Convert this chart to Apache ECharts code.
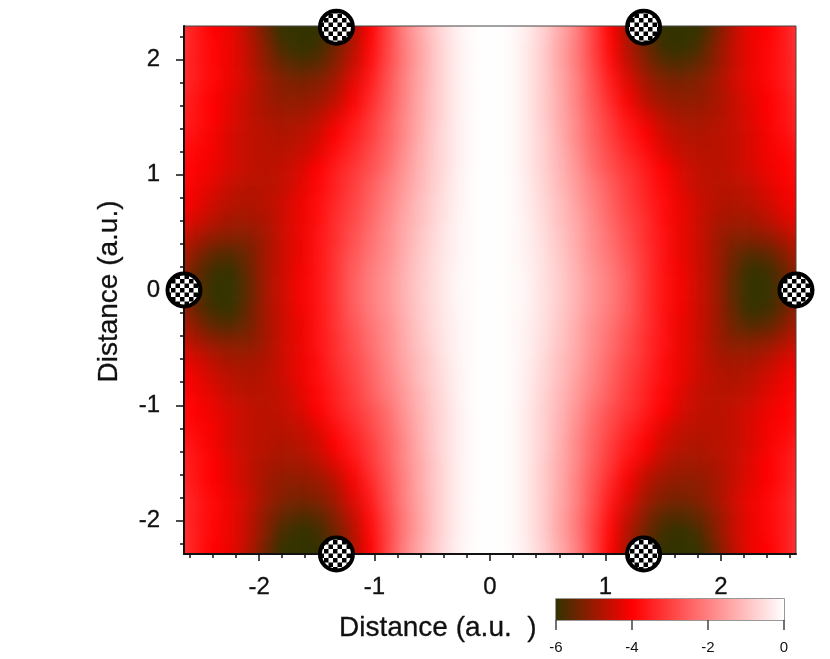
<!DOCTYPE html>
<html>
<head>
<meta charset="utf-8">
<script src="https://cdn.jsdelivr.net/npm/echarts@6/dist/echarts.min.js"></script>
<style>
html, body { margin: 0; padding: 0; background: #fff; }
#plot-clip { position: absolute; left: 184px; top: 26px; width: 612px; height: 528px; overflow: hidden; }
/* blur smooths the coarse cells into a continuous field, extra cells lie outside the clip */
#heat { position: absolute; left: -31.5px; top: -39px; width: 675px; height: 606px; filter: blur(7px); }
#chart { position: absolute; left: 0; top: 0; width: 830px; height: 659px; }
</style>
</head>
<body>
<div id="plot-clip"><div id="heat"></div></div>
<div id="chart"></div>
<script>
const heatX = [-2.85,-2.7,-2.55,-2.4,-2.25,-2.1,-1.95,-1.8,-1.65,-1.5,-1.35,-1.2,-1.05,-.9,-.75,-.6,-.45,-.3,-.15,0,.15,.3,.45,.6,.75,.9,1.05,1.2,1.35,1.5,1.65,1.8,1.95,2.1,2.25,2.4,2.55,2.7,2.85];
const heatY = [2.55,2.4,2.25,2.1,1.95,1.8,1.65,1.5,1.35,1.2,1.05,.9,.75,.6,.45,.3,.15,0,-.15,-.3,-.45,-.6,-.75,-.9,-1.05,-1.2,-1.35,-1.5,-1.65,-1.8,-1.95,-2.1,-2.25,-2.4,-2.55];
// potential values, one row per heatY entry
const heatValues = [
[-2.7,-3.1,-3.6,-4,-4.2,-4.7,-5.4,-6,-6,-6,-5.7,-4.9,-4,-3,-2,-1.3,-.7,-.25,-.05,0,-.05,-.25,-.7,-1.3,-2,-3,-4,-4.9,-5.7,-6,-6,-6,-5.4,-4.7,-4.2,-4,-3.6,-3.1,-2.7],
[-2.7,-3.1,-3.6,-4,-4.2,-4.7,-5.4,-6,-6,-6,-5.7,-4.9,-4,-3,-2,-1.3,-.7,-.25,-.05,0,-.05,-.25,-.7,-1.3,-2,-3,-4,-4.9,-5.7,-6,-6,-6,-5.4,-4.7,-4.2,-4,-3.6,-3.1,-2.7],
[-2.7,-3.1,-3.6,-4,-4.2,-4.7,-5.4,-6,-6,-6,-5.7,-4.9,-4,-3,-2,-1.3,-.7,-.25,-.05,0,-.05,-.25,-.7,-1.3,-2,-3,-4,-4.9,-5.7,-6,-6,-6,-5.4,-4.7,-4.2,-4,-3.6,-3.1,-2.7],
[-2.7,-3.1,-3.6,-3.9,-4.2,-4.6,-5.2,-5.8,-6,-5.9,-5.4,-4.8,-3.9,-3,-2.1,-1.4,-.75,-.3,-.05,0,-.05,-.3,-.75,-1.4,-2.1,-3,-3.9,-4.8,-5.4,-5.9,-6,-5.8,-5.2,-4.6,-4.2,-3.9,-3.6,-3.1,-2.7],
[-2.8,-3.2,-3.6,-3.9,-4.2,-4.6,-5.1,-5.5,-5.7,-5.6,-5.2,-4.6,-3.8,-2.9,-2.1,-1.4,-.75,-.3,-.05,0,-.05,-.3,-.75,-1.4,-2.1,-2.9,-3.8,-4.6,-5.2,-5.6,-5.7,-5.5,-5.1,-4.6,-4.2,-3.9,-3.6,-3.2,-2.8],
[-2.9,-3.2,-3.6,-3.9,-4.2,-4.5,-4.9,-5.2,-5.3,-5.2,-4.9,-4.3,-3.6,-2.8,-2,-1.35,-.75,-.3,-.05,0,-.05,-.3,-.75,-1.35,-2,-2.8,-3.6,-4.3,-4.9,-5.2,-5.3,-5.2,-4.9,-4.5,-4.2,-3.9,-3.6,-3.2,-2.9],
[-3,-3.3,-3.7,-4,-4.3,-4.6,-4.9,-5.1,-5.1,-5,-4.7,-4.1,-3.4,-2.7,-2,-1.3,-.75,-.3,-.05,0,-.05,-.3,-.75,-1.3,-2,-2.7,-3.4,-4.1,-4.7,-5,-5.1,-5.1,-4.9,-4.6,-4.3,-4,-3.7,-3.3,-3],
[-3.1,-3.4,-3.7,-4,-4.3,-4.6,-4.8,-4.9,-4.9,-4.7,-4.3,-3.8,-3.2,-2.6,-1.9,-1.3,-.75,-.3,-.05,0,-.05,-.3,-.75,-1.3,-1.9,-2.6,-3.2,-3.8,-4.3,-4.7,-4.9,-4.9,-4.8,-4.6,-4.3,-4,-3.7,-3.4,-3.1],
[-3.3,-3.5,-3.8,-4.1,-4.4,-4.6,-4.7,-4.8,-4.7,-4.5,-4,-3.6,-3.1,-2.5,-1.9,-1.25,-.7,-.3,-.05,0,-.05,-.3,-.7,-1.25,-1.9,-2.5,-3.1,-3.6,-4,-4.5,-4.7,-4.8,-4.7,-4.6,-4.4,-4.1,-3.8,-3.5,-3.3],
[-3.5,-3.7,-3.9,-4.1,-4.4,-4.6,-4.7,-4.7,-4.6,-4.3,-3.8,-3.4,-2.9,-2.4,-1.8,-1.2,-.7,-.3,-.05,0,-.05,-.3,-.7,-1.2,-1.8,-2.4,-2.9,-3.4,-3.8,-4.3,-4.6,-4.7,-4.7,-4.6,-4.4,-4.1,-3.9,-3.7,-3.5],
[-3.6,-3.8,-4,-4.2,-4.4,-4.6,-4.7,-4.6,-4.4,-4,-3.6,-3.2,-2.8,-2.3,-1.7,-1.15,-.7,-.3,-.05,0,-.05,-.3,-.7,-1.15,-1.7,-2.3,-2.8,-3.2,-3.6,-4,-4.4,-4.6,-4.7,-4.6,-4.4,-4.2,-4,-3.8,-3.6],
[-3.8,-3.9,-4.1,-4.3,-4.6,-4.7,-4.7,-4.6,-4.3,-3.9,-3.5,-3.1,-2.6,-2.1,-1.6,-1.1,-.65,-.25,-.05,0,-.05,-.25,-.65,-1.1,-1.6,-2.1,-2.6,-3.1,-3.5,-3.9,-4.3,-4.6,-4.7,-4.7,-4.6,-4.3,-4.1,-3.9,-3.8],
[-3.9,-4,-4.2,-4.5,-4.7,-4.8,-4.7,-4.5,-4.2,-3.8,-3.4,-3,-2.5,-2,-1.5,-1,-.6,-.25,-.05,0,-.05,-.25,-.6,-1,-1.5,-2,-2.5,-3,-3.4,-3.8,-4.2,-4.5,-4.7,-4.8,-4.7,-4.5,-4.2,-4,-3.9],
[-4.1,-4.2,-4.4,-4.7,-4.9,-4.9,-4.8,-4.5,-4.2,-3.8,-3.3,-2.9,-2.4,-1.9,-1.4,-1,-.55,-.2,-.05,0,-.05,-.2,-.55,-1,-1.4,-1.9,-2.4,-2.9,-3.3,-3.8,-4.2,-4.5,-4.8,-4.9,-4.9,-4.7,-4.4,-4.2,-4.1],
[-4.3,-4.5,-4.8,-5.1,-5.2,-5.2,-4.9,-4.5,-4.2,-3.7,-3.3,-2.8,-2.3,-1.85,-1.35,-.9,-.5,-.2,-.05,0,-.05,-.2,-.5,-.9,-1.35,-1.85,-2.3,-2.8,-3.3,-3.7,-4.2,-4.5,-4.9,-5.2,-5.2,-5.1,-4.8,-4.5,-4.3],
[-4.5,-4.7,-5.2,-5.6,-5.7,-5.4,-4.9,-4.5,-4.2,-3.7,-3.2,-2.7,-2.2,-1.8,-1.3,-.85,-.45,-.2,-.05,0,-.05,-.2,-.45,-.85,-1.3,-1.8,-2.2,-2.7,-3.2,-3.7,-4.2,-4.5,-4.9,-5.4,-5.7,-5.6,-5.2,-4.7,-4.5],
[-4.7,-4.9,-5.5,-5.9,-6,-5.5,-4.9,-4.5,-4.1,-3.7,-3.2,-2.6,-2.1,-1.7,-1.25,-.8,-.45,-.15,-.05,0,-.05,-.15,-.45,-.8,-1.25,-1.7,-2.1,-2.6,-3.2,-3.7,-4.1,-4.5,-4.9,-5.5,-6,-5.9,-5.5,-4.9,-4.7],
[-4.8,-5,-5.6,-6,-6,-5.6,-4.9,-4.5,-4.1,-3.7,-3.2,-2.6,-2.1,-1.7,-1.25,-.8,-.45,-.15,-.05,0,-.05,-.15,-.45,-.8,-1.25,-1.7,-2.1,-2.6,-3.2,-3.7,-4.1,-4.5,-4.9,-5.6,-6,-6,-5.6,-5,-4.8],
[-4.7,-4.9,-5.5,-5.9,-6,-5.5,-4.9,-4.5,-4.1,-3.7,-3.2,-2.6,-2.1,-1.7,-1.25,-.8,-.45,-.15,-.05,0,-.05,-.15,-.45,-.8,-1.25,-1.7,-2.1,-2.6,-3.2,-3.7,-4.1,-4.5,-4.9,-5.5,-6,-5.9,-5.5,-4.9,-4.7],
[-4.5,-4.7,-5.2,-5.6,-5.7,-5.4,-4.9,-4.5,-4.2,-3.7,-3.2,-2.7,-2.2,-1.8,-1.3,-.85,-.45,-.2,-.05,0,-.05,-.2,-.45,-.85,-1.3,-1.8,-2.2,-2.7,-3.2,-3.7,-4.2,-4.5,-4.9,-5.4,-5.7,-5.6,-5.2,-4.7,-4.5],
[-4.3,-4.5,-4.8,-5.1,-5.2,-5.2,-4.9,-4.5,-4.2,-3.7,-3.3,-2.8,-2.3,-1.85,-1.35,-.9,-.5,-.2,-.05,0,-.05,-.2,-.5,-.9,-1.35,-1.85,-2.3,-2.8,-3.3,-3.7,-4.2,-4.5,-4.9,-5.2,-5.2,-5.1,-4.8,-4.5,-4.3],
[-4.1,-4.2,-4.4,-4.7,-4.9,-4.9,-4.8,-4.5,-4.2,-3.8,-3.3,-2.9,-2.4,-1.9,-1.4,-1,-.55,-.2,-.05,0,-.05,-.2,-.55,-1,-1.4,-1.9,-2.4,-2.9,-3.3,-3.8,-4.2,-4.5,-4.8,-4.9,-4.9,-4.7,-4.4,-4.2,-4.1],
[-3.9,-4,-4.2,-4.5,-4.7,-4.8,-4.7,-4.5,-4.2,-3.8,-3.4,-3,-2.5,-2,-1.5,-1,-.6,-.25,-.05,0,-.05,-.25,-.6,-1,-1.5,-2,-2.5,-3,-3.4,-3.8,-4.2,-4.5,-4.7,-4.8,-4.7,-4.5,-4.2,-4,-3.9],
[-3.8,-3.9,-4.1,-4.3,-4.6,-4.7,-4.7,-4.6,-4.3,-3.9,-3.5,-3.1,-2.6,-2.1,-1.6,-1.1,-.65,-.25,-.05,0,-.05,-.25,-.65,-1.1,-1.6,-2.1,-2.6,-3.1,-3.5,-3.9,-4.3,-4.6,-4.7,-4.7,-4.6,-4.3,-4.1,-3.9,-3.8],
[-3.6,-3.8,-4,-4.2,-4.4,-4.6,-4.7,-4.6,-4.4,-4,-3.6,-3.2,-2.8,-2.3,-1.7,-1.15,-.7,-.3,-.05,0,-.05,-.3,-.7,-1.15,-1.7,-2.3,-2.8,-3.2,-3.6,-4,-4.4,-4.6,-4.7,-4.6,-4.4,-4.2,-4,-3.8,-3.6],
[-3.5,-3.7,-3.9,-4.1,-4.4,-4.6,-4.7,-4.7,-4.6,-4.3,-3.8,-3.4,-2.9,-2.4,-1.8,-1.2,-.7,-.3,-.05,0,-.05,-.3,-.7,-1.2,-1.8,-2.4,-2.9,-3.4,-3.8,-4.3,-4.6,-4.7,-4.7,-4.6,-4.4,-4.1,-3.9,-3.7,-3.5],
[-3.3,-3.5,-3.8,-4.1,-4.4,-4.6,-4.7,-4.8,-4.7,-4.5,-4,-3.6,-3.1,-2.5,-1.9,-1.25,-.7,-.3,-.05,0,-.05,-.3,-.7,-1.25,-1.9,-2.5,-3.1,-3.6,-4,-4.5,-4.7,-4.8,-4.7,-4.6,-4.4,-4.1,-3.8,-3.5,-3.3],
[-3.1,-3.4,-3.7,-4,-4.3,-4.6,-4.8,-4.9,-4.9,-4.7,-4.3,-3.8,-3.2,-2.6,-1.9,-1.3,-.75,-.3,-.05,0,-.05,-.3,-.75,-1.3,-1.9,-2.6,-3.2,-3.8,-4.3,-4.7,-4.9,-4.9,-4.8,-4.6,-4.3,-4,-3.7,-3.4,-3.1],
[-3,-3.3,-3.7,-4,-4.3,-4.6,-4.9,-5.1,-5.1,-5,-4.7,-4.1,-3.4,-2.7,-2,-1.3,-.75,-.3,-.05,0,-.05,-.3,-.75,-1.3,-2,-2.7,-3.4,-4.1,-4.7,-5,-5.1,-5.1,-4.9,-4.6,-4.3,-4,-3.7,-3.3,-3],
[-2.9,-3.2,-3.6,-3.9,-4.2,-4.5,-4.9,-5.2,-5.3,-5.2,-4.9,-4.3,-3.6,-2.8,-2,-1.35,-.75,-.3,-.05,0,-.05,-.3,-.75,-1.35,-2,-2.8,-3.6,-4.3,-4.9,-5.2,-5.3,-5.2,-4.9,-4.5,-4.2,-3.9,-3.6,-3.2,-2.9],
[-2.8,-3.2,-3.6,-3.9,-4.2,-4.6,-5.1,-5.5,-5.7,-5.6,-5.2,-4.6,-3.8,-2.9,-2.1,-1.4,-.75,-.3,-.05,0,-.05,-.3,-.75,-1.4,-2.1,-2.9,-3.8,-4.6,-5.2,-5.6,-5.7,-5.5,-5.1,-4.6,-4.2,-3.9,-3.6,-3.2,-2.8],
[-2.7,-3.1,-3.6,-3.9,-4.2,-4.6,-5.2,-5.8,-6,-5.9,-5.4,-4.8,-3.9,-3,-2.1,-1.4,-.75,-.3,-.05,0,-.05,-.3,-.75,-1.4,-2.1,-3,-3.9,-4.8,-5.4,-5.9,-6,-5.8,-5.2,-4.6,-4.2,-3.9,-3.6,-3.1,-2.7],
[-2.7,-3.1,-3.6,-4,-4.2,-4.7,-5.4,-6,-6,-6,-5.7,-4.9,-4,-3,-2,-1.3,-.7,-.25,-.05,0,-.05,-.25,-.7,-1.3,-2,-3,-4,-4.9,-5.7,-6,-6,-6,-5.4,-4.7,-4.2,-4,-3.6,-3.1,-2.7],
[-2.7,-3.1,-3.6,-4,-4.2,-4.7,-5.4,-6,-6,-6,-5.7,-4.9,-4,-3,-2,-1.3,-.7,-.25,-.05,0,-.05,-.25,-.7,-1.3,-2,-3,-4,-4.9,-5.7,-6,-6,-6,-5.4,-4.7,-4.2,-4,-3.6,-3.1,-2.7],
[-2.7,-3.1,-3.6,-4,-4.2,-4.7,-5.4,-6,-6,-6,-5.7,-4.9,-4,-3,-2,-1.3,-.7,-.25,-.05,0,-.05,-.25,-.7,-1.3,-2,-3,-4,-4.9,-5.7,-6,-6,-6,-5.4,-4.7,-4.2,-4,-3.6,-3.1,-2.7]
];
const atoms = [[-1.33,2.28],[1.33,2.28],[-2.65,0],[2.65,0],[-1.33,-2.29],[1.33,-2.29]];
const majorTicks = [-2,-1,0,1,2];
const minorXTicks = [-2.6,-2.4,-2.2,-1.8,-1.6,-1.4,-1.2,-.8,-.6,-.4,-.2,.2,.4,.6,.8,1.2,1.4,1.6,1.8,2.2,2.4,2.6];
const minorYTicks = [-2.2,-1.8,-1.6,-1.4,-1.2,-.8,-.6,-.4,-.2,.2,.4,.6,.8,1.2,1.4,1.6,1.8,2.2];
const legendTicks = [-6,-4,-2,0];
const ramp = ['#333300','#ff0000','#ff8080','#ffffff'];

const heatData = [];
heatValues.forEach((row, j) => row.forEach((v, i) => heatData.push([i, j, v])));

const heatChart = echarts.init(document.getElementById('heat'));
heatChart.setOption({
    animation: false,
    grid: { left: 0, right: 0, top: 0, bottom: 0 },
    xAxis: { type: 'category', data: heatX, show: false },
    yAxis: { type: 'category', data: heatY, inverse: true, show: false },
    visualMap: { show: false, min: -6, max: 0, dimension: 2, inRange: { color: ramp } },
    series: [{ type: 'heatmap', data: heatData, progressive: 0 }]
});

// checker fill for the atom markers
const checker = document.createElement('canvas');
checker.width = 9;
checker.height = 9;
const ctx = checker.getContext('2d');
ctx.fillStyle = '#fff';
ctx.fillRect(0, 0, 9, 9);
ctx.fillStyle = '#000';
ctx.fillRect(0, 0, 4.5, 4.5);
ctx.fillRect(4.5, 4.5, 4.5, 4.5);

const font = 'Liberation Sans, Arial, sans-serif';
const axisLine = { show: true, onZero: false, lineStyle: { color: '#111', width: 2 } };
const hiddenLine = { show: false, onZero: false };
const labelStyle = { color: '#111', fontFamily: font, fontSize: 24, textBorderColor: '#111', textBorderWidth: 0.3 };

const chart = echarts.init(document.getElementById('chart'));
chart.setOption({
    animation: false,
    backgroundColor: 'transparent',
    grid: [
        { left: 184, top: 26, width: 612, height: 528, show: true, borderColor: '#444', borderWidth: 1, backgroundColor: 'transparent' },
        { left: 556, top: 599, width: 228, height: 21, show: true, borderColor: '#777', borderWidth: 1.5, backgroundColor: 'transparent' }
    ],
    xAxis: [
        {
            type: 'value', gridIndex: 0, min: -2.65, max: 2.65, position: 'bottom', splitLine: { show: false }, axisLine,
            axisTick: { length: 7, customValues: majorTicks, lineStyle: { color: '#111', width: 1.5 } },
            axisLabel: { customValues: majorTicks, margin: 21, ...labelStyle }
        },
        {
            type: 'value', gridIndex: 0, min: -2.65, max: 2.65, position: 'bottom', splitLine: { show: false }, axisLine: hiddenLine,
            axisTick: { length: 4, customValues: minorXTicks, lineStyle: { color: '#111', width: 1.5 } },
            axisLabel: { show: false }
        },
        {
            type: 'value', gridIndex: 1, min: -6, max: 0, position: 'bottom', splitLine: { show: false }, axisLine: hiddenLine,
            axisTick: { length: 10, customValues: legendTicks, lineStyle: { color: '#444', width: 1.5 } },
            axisLabel: { customValues: legendTicks, margin: 20, color: '#111', fontFamily: 'Liberation Sans Narrow, Liberation Sans, sans-serif', fontSize: 15 }
        }
    ],
    yAxis: [
        {
            type: 'value', gridIndex: 0, min: -2.29, max: 2.29, position: 'left', splitLine: { show: false }, axisLine,
            axisTick: { length: 8, customValues: majorTicks, lineStyle: { color: '#111', width: 1.5 } },
            axisLabel: { customValues: majorTicks, margin: 24, ...labelStyle }
        },
        {
            type: 'value', gridIndex: 0, min: -2.29, max: 2.29, position: 'left', splitLine: { show: false }, axisLine: hiddenLine,
            axisTick: { length: 4, customValues: minorYTicks, lineStyle: { color: '#111', width: 1.5 } },
            axisLabel: { show: false }
        },
        { type: 'value', gridIndex: 1, min: 0, max: 1, show: false }
    ],
    series: [
        {
            type: 'custom', xAxisIndex: 0, yAxisIndex: 0, data: atoms, clip: false, z: 5,
            renderItem: function (params, api) {
                const c = api.coord([api.value(0), api.value(1)]);
                return {
                    type: 'circle',
                    shape: { cx: c[0], cy: c[1], r: 16.5 },
                    style: { fill: { image: checker, repeat: 'repeat' }, stroke: '#000', lineWidth: 4 }
                };
            }
        },
        {
            type: 'custom', xAxisIndex: 2, yAxisIndex: 2, data: [[-6, 0]], clip: true,
            renderItem: function (params, api) {
                const a = api.coord([-6, 1]);
                const b = api.coord([0, 0]);
                return {
                    type: 'rect',
                    shape: { x: a[0], y: a[1], width: b[0] - a[0], height: b[1] - a[1] },
                    style: {
                        fill: new echarts.graphic.LinearGradient(0, 0, 1, 0,
                            ramp.map((c, i) => ({ offset: i / (ramp.length - 1), color: c })))
                    }
                };
            }
        }
    ],
    graphic: [
        { type: 'text', x: 339, y: 628, style: { text: 'Distance (a.u.  )', fontFamily: font, fontSize: 28, fill: '#111', stroke: '#111', lineWidth: 0.3, textVerticalAlign: 'middle' } },
        { type: 'text', x: 109, y: 291.5, rotation: Math.PI / 2, style: { text: 'Distance (a.u.)', fontFamily: font, fontSize: 28, fill: '#111', stroke: '#111', lineWidth: 0.3, textAlign: 'center', textVerticalAlign: 'middle' } }
    ]
});
</script>
</body>
</html>
